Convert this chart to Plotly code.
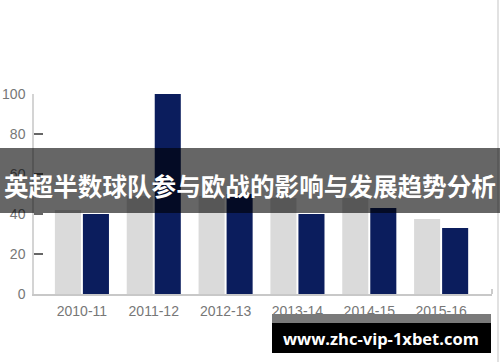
import plotly.graph_objects as go

seasons = ["2010-11", "2011-12", "2012-13", "2013-14", "2014-15", "2015-16"]
series_grey = [42, 49, 49, 48, 48, 37.5]
series_navy = [40, 100, 50, 40, 43, 33]
y_ticks = [0, 20, 40, 60, 80, 100]
title_text = "英超半数球队参与欧战的影响与发展趋势分析"
watermark_text = "www.zhc-vip-1xbet.com"

W, H = 500, 362
L, R, T, B = 34, 8, 94, 68
pw = W - L - R
ph = H - T - B


def px_x(x):
    return (x - L) / pw


def px_y(y):
    return (H - B - y) / ph


fig = go.Figure()
fig.add_bar(x=seasons, y=series_grey, marker_color="#dadada", marker_line_width=0)
fig.add_bar(x=seasons, y=series_navy, marker_color="#0b1d5d", marker_line_width=0)

tick_font = dict(family="Liberation Sans, Arial, sans-serif", size=14, color="#777777")

fig.update_layout(
    width=W, height=H,
    margin=dict(l=L, r=R, t=T, b=B, autoexpand=False),
    barmode="group", bargap=0.22, bargroupgap=0.07,
    showlegend=False,
    plot_bgcolor="white", paper_bgcolor="white",
)
fig.update_xaxes(
    type="category",
    range=[-0.667, 5.708], showline=True, linecolor="#c8c8c8", linewidth=1.5,
    ticks="", tickfont=tick_font, showgrid=False, ticklabelstandoff=3,
)
fig.update_yaxes(
    range=[0, 100], tickvals=y_ticks, showgrid=False, zeroline=False,
    showline=True, linecolor="#d4d4d4", linewidth=1.5,
    ticks="inside", ticklen=9, tickcolor="#666666", tickwidth=1.5,
    tickfont=tick_font, ticklabelstandoff=4,
)

shapes = [
    # right border line
    dict(type="line", xref="paper", yref="paper", x0=px_x(498), x1=px_x(498),
         y0=px_y(0), y1=px_y(362), line=dict(color="#d8d8d8", width=1.5)),
    # small end tick on x axis
    dict(type="line", xref="paper", yref="paper", x0=1, x1=1,
         y0=0, y1=px_y(289), line=dict(color="#999999", width=1)),
    # banner
    dict(type="rect", xref="paper", yref="paper", x0=px_x(0), x1=px_x(500),
         y0=px_y(213), y1=px_y(148), fillcolor="rgba(0,0,0,0.6)",
         line=dict(width=0), layer="above"),
    # watermark grey strip
    dict(type="rect", xref="paper", yref="paper", x0=px_x(272), x1=px_x(491),
         y0=px_y(323), y1=px_y(314), fillcolor="#7a7a7a",
         line=dict(width=0), layer="above"),
    # watermark black box
    dict(type="rect", xref="paper", yref="paper", x0=px_x(272), x1=px_x(491),
         y0=px_y(353), y1=px_y(323), fillcolor="#000000",
         line=dict(width=0), layer="above"),
]
fig.update_layout(shapes=shapes)

fig.add_annotation(
    xref="paper", yref="paper", x=px_x(250), y=px_y(185),
    text="<b>" + title_text + "</b>", showarrow=False,
    font=dict(family="Noto Sans CJK SC", size=24.6, color="white"),
    xanchor="center", yanchor="middle",
)
fig.add_annotation(
    xref="paper", yref="paper", x=px_x(381), y=px_y(338),
    text="<b>" + watermark_text + "</b>", showarrow=False,
    font=dict(family="Open Sans", size=16.5, color="white"),
    xanchor="center", yanchor="middle",
)

fig.write_html("out.html")
